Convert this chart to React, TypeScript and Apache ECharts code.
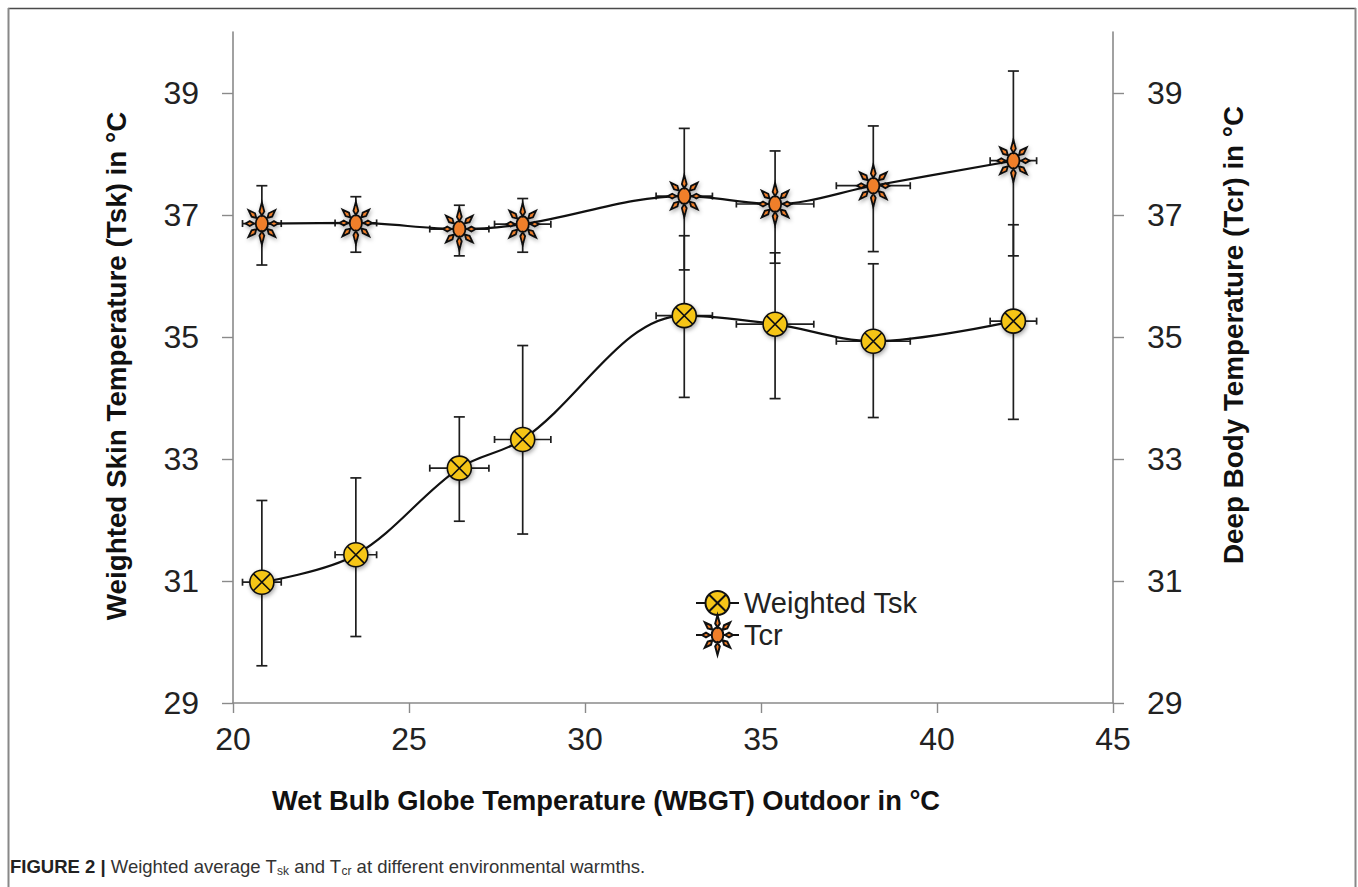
import React, { useEffect, useRef } from "react";
import * as echarts from "echarts";

// ---- Data ----
const wbgt = [20.82, 23.49, 26.43, 28.23, 32.82, 35.4, 38.19, 42.17];
const wbgtErr = [0.55, 0.59, 0.84, 0.8, 0.8, 1.1, 1.05, 0.66];

const tsk = [30.98, 31.43, 32.85, 33.32, 35.35, 35.21, 34.93, 35.26];
const tskHigh = [32.32, 32.69, 33.69, 34.86, 36.66, 36.38, 36.2, 36.84];
const tskLow = [29.61, 30.09, 31.98, 31.77, 34.01, 33.99, 33.68, 33.65];

const tcr = [36.86, 36.87, 36.77, 36.85, 37.31, 37.18, 37.48, 37.89];
const tcrHigh = [37.48, 37.3, 37.16, 37.27, 38.42, 38.05, 38.46, 39.36];
const tcrLow = [36.18, 36.39, 36.33, 36.39, 36.1, 36.21, 36.4, 36.33];

const xTicks = [20, 25, 30, 35, 40, 45];
const yTicks = [29, 31, 33, 35, 37, 39];

const seriesNames = ["Weighted Tsk", "Tcr"];
const xTitle = "Wet Bulb Globe Temperature (WBGT) Outdoor in °C";
const yLeftTitle = "Weighted Skin Temperature (Tsk) in °C";
const yRightTitle = "Deep Body Temperature (Tcr) in °C";

// ---- Symbols ----
const PAD = "M-20,-20 L-20,-20 M20,20 L20,20 ";
const circleX =
  PAD +
  "M0,-12 A12,12 0 1,1 0,12 A12,12 0 1,1 0,-12 Z M-8.3,-8.3 L8.3,8.3 M8.3,-8.3 L-8.3,8.3";

function makeStar(): string {
  let d = PAD;
  for (let k = 0; k < 8; k++) {
    const a = (k * Math.PI) / 4;
    const c = Math.cos(a);
    const s = Math.sin(a);
    const vertical = k % 4 === 2;
    const horizontal = k % 4 === 0;
    const tip = vertical ? 20 : horizontal ? 15.5 : 18;
    const r0 = 7.5;
    const rm = 11.5;
    const w = 2.3;
    const p = (r: number, o: number) =>
      `${(r * c - o * s).toFixed(2)},${(r * s + o * c).toFixed(2)}`;
    d += `M${p(r0, 0)} L${p(rm, w)} L${p(tip, 0)} L${p(rm, -w)} Z `;
  }
  d += "M0,-7.5 A5.8,7.5 0 1,1 0,7.5 A5.8,7.5 0 1,1 0,-7.5 Z";
  return d;
}
const starSym = makeStar();

const FONT = "'Liberation Sans', Arial, Helvetica, sans-serif";
const NARROW = "'Liberation Sans Narrow', 'Arial Narrow', 'Liberation Sans', sans-serif";

function errorRender(params: any, api: any) {
  const x = api.value(0);
  const y = api.value(1);
  const lo = api.coord([x, api.value(2)]);
  const hi = api.coord([x, api.value(3)]);
  const l = api.coord([api.value(4), y]);
  const r = api.coord([api.value(5), y]);
  const cw = 5.5;
  const ch = 3.5;
  const style = { stroke: "#1e1e1e", lineWidth: 1.7, fill: null };
  const ln = (x1: number, y1: number, x2: number, y2: number) => ({
    type: "line",
    shape: { x1, y1, x2, y2 },
    style,
  });
  return {
    type: "group",
    children: [
      ln(lo[0], lo[1], hi[0], hi[1]),
      ln(lo[0] - cw, lo[1], lo[0] + cw, lo[1]),
      ln(hi[0] - cw, hi[1], hi[0] + cw, hi[1]),
      ln(l[0], l[1], r[0], r[1]),
      ln(l[0], l[1] - ch, l[0], l[1] + ch),
      ln(r[0], r[1] - ch, r[0], r[1] + ch),
    ],
  };
}

export default function App() {
  const ref = useRef<HTMLDivElement>(null);

  useEffect(() => {
    document.body.style.margin = "0";
    const chart = echarts.init(ref.current!, null, { renderer: "svg" });

    const tskPts = wbgt.map((x, i) => [x, tsk[i]]);
    const tcrPts = wbgt.map((x, i) => [x, tcr[i]]);
    const tskErrData = wbgt.map((x, i) => [
      x,
      tsk[i],
      tskLow[i],
      tskHigh[i],
      x - wbgtErr[i],
      x + wbgtErr[i],
    ]);
    const tcrErrData = wbgt.map((x, i) => [
      x,
      tcr[i],
      tcrLow[i],
      tcrHigh[i],
      x - wbgtErr[i],
      x + wbgtErr[i],
    ]);

    const axisGray = "#8a8a8a";
    const yAxisBase = (pos: "left" | "right") => ({
      type: "value",
      position: pos,
      min: 29,
      max: 40,
      axisLine: { show: true, lineStyle: { color: axisGray, width: 1.6 } },
      axisTick: {
        show: true,
        length: 11,
        customValues: yTicks,
        lineStyle: { color: axisGray, width: 1.4 },
      },
      axisLabel: {
        customValues: yTicks,
        fontSize: 32,
        fontFamily: FONT,
        color: "#222",
        margin: 34,
      },
      splitLine: { show: false },
    });

    const symbolStyle = {
      borderColor: "#111",
      borderWidth: 1.8,
      shadowBlur: 4,
      shadowColor: "rgba(0,0,0,0.35)",
      shadowOffsetX: 1,
      shadowOffsetY: 2,
    };

    const titleStyle = (text: string, size: number) => ({
      text,
      fontFamily: FONT,
      fontSize: size,
      fontWeight: "bold",
      fill: "#111",
      align: "center",
      verticalAlign: "middle",
      textAlign: "center",
      textVerticalAlign: "middle",
    });

    chart.setOption({
      animation: false,
      backgroundColor: "#fff",
      grid: { left: 233, right: 245, top: 32, bottom: 184 },
      xAxis: {
        type: "value",
        min: 20,
        max: 45,
        interval: 5,
        axisLine: { show: true, lineStyle: { color: axisGray, width: 1.6 } },
        axisTick: { show: true, length: 10, lineStyle: { color: axisGray, width: 1.4 } },
        axisLabel: {
          fontSize: 32,
          fontFamily: FONT,
          color: "#222",
          margin: 20,
          customValues: xTicks,
        },
        splitLine: { show: false },
      },
      yAxis: [yAxisBase("left"), yAxisBase("right")],
      legend: {
        data: seriesNames,
        orient: "vertical",
        left: 695,
        top: 582,
        padding: 0,
        itemWidth: 43,
        itemHeight: 50,
        itemGap: -10,
        textStyle: { fontSize: 29, fontFamily: FONT, color: "#222" },
        selectedMode: false,
      },
      series: [
        {
          type: "custom",
          name: "tskErr",
          renderItem: errorRender,
          data: tskErrData,
          encode: { x: [0, 4, 5], y: [1, 2, 3] },
          z: 1,
          silent: true,
        },
        {
          type: "custom",
          name: "tcrErr",
          yAxisIndex: 1,
          renderItem: errorRender,
          data: tcrErrData,
          encode: { x: [0, 4, 5], y: [1, 2, 3] },
          z: 1,
          silent: true,
        },
        {
          type: "line",
          name: seriesNames[0],
          data: tskPts,
          smooth: 0.35,
          symbol: "path://" + circleX,
          symbolSize: 40,
          lineStyle: { color: "#111", width: 2.2 },
          itemStyle: { color: "#F5C518", ...symbolStyle, borderWidth: 1.6 },
          z: 3,
          silent: true,
        },
        {
          type: "line",
          name: seriesNames[1],
          yAxisIndex: 1,
          data: tcrPts,
          smooth: 0.35,
          symbol: "path://" + starSym,
          symbolSize: 42,
          lineStyle: { color: "#111", width: 2.2 },
          itemStyle: { color: "#F07F2A", ...symbolStyle },
          z: 3,
          silent: true,
        },
      ],
      graphic: [
        // figure frame
        { type: "line", shape: { x1: 8, y1: 8.5, x2: 1356, y2: 8.5 }, style: { stroke: "#4a4a4a", lineWidth: 1.6 } },
        { type: "line", shape: { x1: 8.5, y1: 8, x2: 8.5, y2: 887 }, style: { stroke: "#888", lineWidth: 2 } },
        { type: "line", shape: { x1: 1355.5, y1: 8, x2: 1355.5, y2: 887 }, style: { stroke: "#888", lineWidth: 2 } },
        // axis titles
        { type: "text", x: 606, y: 800, style: titleStyle(xTitle, 27.3) },
        { type: "text", x: 116, y: 366, rotation: Math.PI / 2, style: titleStyle(yLeftTitle, 27.8) },
        { type: "text", x: 1233, y: 335, rotation: Math.PI / 2, style: titleStyle(yRightTitle, 27.8) },
        // caption
        {
          type: "text",
          x: 10,
          y: 866,
          style: {
            text:
              "{b|FIGURE 2 |}{n| Weighted average T}{s|sk}{n| and T}{s|cr}{n| at different environmental warmths.}",
            verticalAlign: "middle",
            textVerticalAlign: "middle",
            rich: {
              b: {
                fontFamily: NARROW,
                fontWeight: "bold",
                fontSize: 18.5,
                fill: "#222",
                color: "#222",
                lineHeight: 22,
              },
              n: {
                fontFamily: NARROW,
                fontSize: 18.5,
                fill: "#333",
                color: "#333",
                lineHeight: 22,
              },
              s: {
                fontFamily: NARROW,
                fontSize: 12,
                fill: "#333",
                color: "#333",
                lineHeight: 22,
                verticalAlign: "bottom",
                padding: [8, 0, 0, 0],
              },
            },
          },
        },
      ],
    });

    return () => chart.dispose();
  }, []);

  return <div ref={ref} style={{ width: 1358, height: 887 }} />;
}
